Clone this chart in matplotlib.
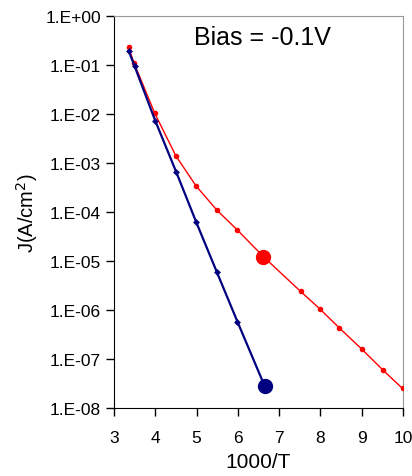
import matplotlib
matplotlib.use("Agg")
import matplotlib.pyplot as plt
from matplotlib.ticker import FuncFormatter
import numpy as np

# red series (smooth curve with small markers)
red_x = [3.355, 3.48, 3.99, 4.5, 4.99, 5.49, 5.99, 6.62, 7.52, 8.0, 8.46, 9.0, 9.51, 9.99]
red_j = [2.3e-1, 1.13e-1, 1.03e-2, 1.4e-3, 3.4e-4, 1.1e-4, 4.3e-5, 1.23e-5, 2.4e-6, 1.03e-6, 4.3e-7, 1.6e-7, 6.0e-8, 2.5e-8]
# blue series
blue_x = [3.355, 3.50, 4.0, 4.51, 4.99, 5.49, 5.99, 6.65]
blue_j = [1.96e-1, 9.5e-2, 7.3e-3, 6.5e-4, 6.3e-5, 6.0e-6, 5.8e-7, 2.8e-8]
# highlighted points
big_red = (6.62, 1.23e-5)
big_blue = (6.65, 2.8e-8)

plt.rcParams['font.family'] = ['Liberation Sans', 'DejaVu Sans']

fig = plt.figure(figsize=(4.12, 4.77), dpi=100)
ax = fig.add_axes([0.2767, 0.1426, 0.7013, 0.8214])

ax.plot(red_x, red_j, color='red', lw=1, marker='o', ms=4,
        markeredgewidth=0, zorder=3)
ax.plot(blue_x[:-1], blue_j[:-1], color='#000080', lw=1.6, marker='D', ms=3.5,
        markeredgewidth=0, zorder=4)
ax.plot(blue_x[-2:], blue_j[-2:], color='#000080', lw=1.6, zorder=4)
ax.plot([big_red[0]], [big_red[1]], 'o', color='red', ms=10, zorder=5)
ax.plot([big_blue[0]], [big_blue[1]], 'o', color='#000080', ms=10, zorder=5)

ax.set_yscale('log')
ax.set_xlim(3, 10)
ax.set_ylim(1e-8, 1)
ax.set_xticks(range(3, 11))
ax.set_yticks([10.0 ** k for k in range(-8, 1)])
ax.minorticks_off()
ax.yaxis.set_major_formatter(FuncFormatter(lambda v, p: "1.E%+03d" % int(round(np.log10(v)))))
ax.tick_params(direction='out', length=6, width=1, labelsize=12.5)
ax.tick_params(axis='x', pad=10)

for s in ['top', 'right']:
    ax.spines[s].set_color('#999999')
for s in ['left', 'bottom']:
    ax.spines[s].set_color('black')

ax.text(0.515, 0.946, 'Bias = -0.1V', transform=ax.transAxes, fontsize=18,
        ha='center', va='center')
ax.set_xlabel('1000/T', fontsize=15, labelpad=5)
ax.set_ylabel('J(A/cm$^2$)', fontsize=14.5, labelpad=4)

fig.savefig('out.png', dpi=100)
